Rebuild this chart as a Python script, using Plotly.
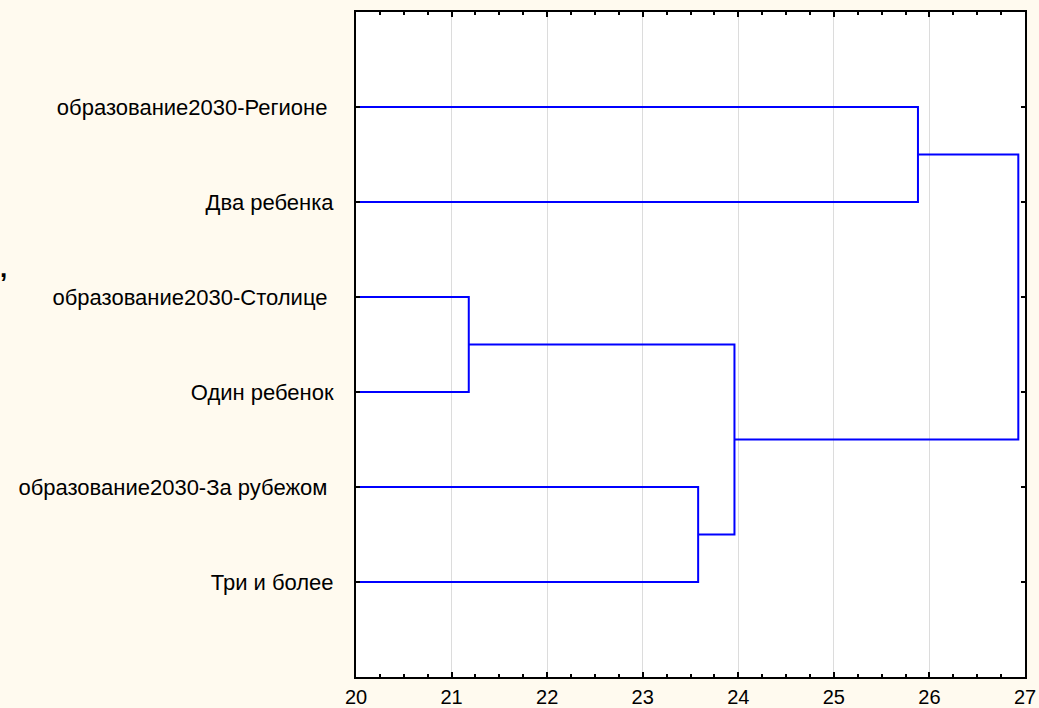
import plotly.graph_objects as go

# Leaf labels (top to bottom)
labels = [
    "образование2030-Регионе ",
    "Два ребенка",
    "образование2030-Столице ",
    "Один ребенок",
    "образование2030-За рубежом ",
    "Три и более",
]
# Linkage: (left cluster, right cluster, linkage distance)
# leaves are 0..5, new clusters numbered 6..
merge_left = [2, 4, 6, 0, 9]
merge_right = [3, 5, 7, 1, 8]
merge_dist = [21.18, 23.58, 23.96, 25.88, 26.93]
x_min = 20
x_max = 27
x_ticks = [20, 21, 22, 23, 24, 25, 26, 27]

# Build dendrogram path coordinates from linkage
pos = {i: (x_min, i + 1) for i in range(len(labels))}
xs, ys = [], []
for k, (a, b, d) in enumerate(zip(merge_left, merge_right, merge_dist)):
    xa, ya = pos[a]
    xb, yb = pos[b]
    xs += [xa, d, d, xb, None]
    ys += [ya, ya, yb, yb, None]
    pos[len(labels) + k] = (d, (ya + yb) / 2)

fig = go.Figure()
fig.add_trace(go.Scatter(
    x=xs, y=ys, mode="lines",
    line=dict(color="#0000FF", width=2),
    hoverinfo="skip", showlegend=False,
))

bg = "#FFFAEF"
fig.update_layout(
    width=1039, height=708,
    paper_bgcolor=bg, plot_bgcolor="white",
    margin=dict(l=356, r=14, t=12, b=31),
    font=dict(family="Liberation Sans, Arial, sans-serif", size=20, color="black"),
    showlegend=False,
)
fig.update_xaxes(
    range=[x_min, x_max], tickvals=x_ticks, automargin=False,
    showline=True, linecolor="black", linewidth=2, mirror="allticks",
    ticks="inside", ticklen=5, tickcolor="black", tickwidth=2,
    minor=dict(dtick=0.25, tick0=20, ticks="inside", ticklen=3, tickcolor="black", tickwidth=1.5, showgrid=False),
    showgrid=True, gridcolor="#DCDCDC", gridwidth=1,
    zeroline=False, tickfont=dict(size=20), ticklabelstandoff=1,
)
fig.update_yaxes(
    range=[7, 0], tickvals=[1, 2, 3, 4, 5, 6], ticktext=labels, automargin=False,
    showline=True, linecolor="black", linewidth=2, mirror="allticks",
    ticks="inside", ticklen=4, tickcolor="black", tickwidth=1.5,
    showgrid=False, zeroline=False, ticklabelstandoff=16,
    tickfont=dict(size=22),
)
fig.add_annotation(
    text="<b>,</b>", x=-358 / 669, y=1 - (268 - 12) / 665,
    xref="x domain", yref="y domain",
    showarrow=False, xanchor="left", yanchor="middle", font=dict(size=26),
)
fig.write_html("out.html", config={"displayModeBar": False},
               post_script="document.body.style.margin='0';")
